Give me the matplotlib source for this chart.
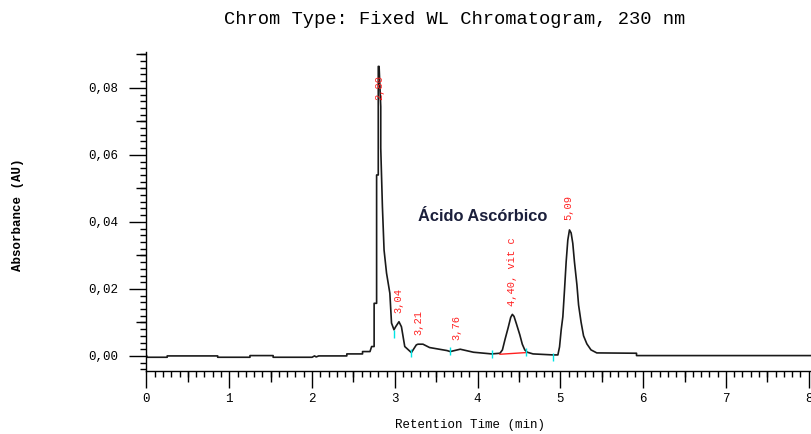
import matplotlib
matplotlib.use("Agg")
import matplotlib.pyplot as plt
from matplotlib.ticker import MultipleLocator, FuncFormatter

# traza del cromatograma (min, AU)
tiempo = [0.00, 0.01, 0.25, 0.25, 0.86, 0.86, 1.25, 1.25, 1.53, 1.53,
          2.00, 2.03, 2.05, 2.08, 2.42, 2.42, 2.61, 2.61, 2.70, 2.72,
          2.75, 2.75, 2.78, 2.78, 2.80, 2.80, 2.81, 2.83, 2.83, 2.85,
          2.87, 2.90, 2.94, 2.96, 2.99, 3.01, 3.05, 3.08, 3.12, 3.20,
          3.26, 3.28, 3.34, 3.42, 3.63, 3.67, 3.79, 3.95, 4.17, 4.27,
          4.30, 4.33, 4.37, 4.40, 4.42, 4.44, 4.47, 4.51, 4.54, 4.57,
          4.60, 4.67, 4.91, 4.97, 4.99, 5.01, 5.03, 5.05, 5.07, 5.09,
          5.11, 5.13, 5.15, 5.17, 5.20, 5.22, 5.25, 5.28, 5.32, 5.37,
          5.44, 5.92, 5.92, 8.04]
absorbancia = [0.0001, -0.0004, -0.0004, 0.0000, 0.0000, -0.0004, -0.0004, 0.0001, 0.0001, -0.0004,
               -0.0004, 0.0000, -0.0003, 0.0000, 0.0000, 0.0006, 0.0006, 0.0013, 0.0013, 0.0028,
               0.0028, 0.0157, 0.0157, 0.0540, 0.0540, 0.0864, 0.0864, 0.0744, 0.0620, 0.0446,
               0.0316, 0.0247, 0.0187, 0.0098, 0.0078, 0.0087, 0.0102, 0.0087, 0.0028, 0.0010,
               0.0033, 0.0035, 0.0035, 0.0025, 0.0016, 0.0013, 0.0020, 0.0011, 0.0006, 0.0008,
               0.0018, 0.0048, 0.0085, 0.0115, 0.0124, 0.0118, 0.0095, 0.0063, 0.0035, 0.0018,
               0.0011, 0.0006, 0.0003, 0.0003, 0.0027, 0.0078, 0.0117, 0.0197, 0.0281, 0.0346,
               0.0376, 0.0367, 0.0336, 0.0281, 0.0212, 0.0152, 0.0101, 0.0060, 0.0036, 0.0018,
               0.0009, 0.0008, 0.0001, 0.0001]

# etiquetas de picos (texto, tiempo, altura de la base del texto)
etiquetas = ["2,80", "3,04", "3,21", "3,76", "4,40, vit c", "5,09"]
etiq_t = [2.81, 3.04, 3.28, 3.75, 4.42, 5.10]
etiq_y = [0.0764, 0.0128, 0.0063, 0.0048, 0.0149, 0.0406]

# marcas de integracion (cian)
marcas_t = [2.99, 3.20, 3.67, 4.17, 4.59, 4.91]
marcas_y = [0.0066, 0.0009, 0.0015, 0.0007, 0.0013, -0.0004]

# linea base del pico de vitamina C
base_t = [4.27, 4.59]
base_y = [0.0005, 0.0010]

MONO = "Liberation Mono"

fig = plt.figure(figsize=(8.12, 4.34), dpi=100)
ax = fig.add_axes([146.5 / 812, 63 / 434, 665.5 / 812, 319 / 434])

ax.plot(tiempo, absorbancia, color="#1a1a1a", lw=1.2)
ax.plot(base_t, base_y, color="#ff2020", lw=1.0)
ax.vlines(marcas_t, [m - 0.0012 for m in marcas_y], [m + 0.0012 for m in marcas_y],
          color="#00e5e5", lw=1.0)

for txt, tx, ty in zip(etiquetas, etiq_t, etiq_y):
    ax.text(tx, ty, txt, rotation=90, ha="center", va="bottom",
            color="#ff2020", fontsize=7.5, family=MONO)

ax.text(4.06, 0.0415, "Ácido Ascórbico", ha="center", va="center",
        fontsize=11.8, fontweight="bold", family="Liberation Sans", color="#1b1f3b")

ax.set_xlim(0, 8.04)
ax.set_ylim(-0.0045, 0.0907)

for s in ["top", "right"]:
    ax.spines[s].set_visible(False)
for s in ["left", "bottom"]:
    ax.spines[s].set_linewidth(1.0)

ax.xaxis.set_major_locator(MultipleLocator(1))
ax.xaxis.set_minor_locator(MultipleLocator(0.1))
ax.yaxis.set_major_locator(MultipleLocator(0.02))
ax.yaxis.set_minor_locator(MultipleLocator(0.002))
ax.yaxis.set_major_formatter(FuncFormatter(lambda v, p: f"{v:.2f}".replace(".", ",")))
ax.tick_params(which="major", length=12, width=1, direction="out")
ax.tick_params(which="minor", length=4, width=1, direction="out")
ax.tick_params(axis="x", pad=4)
ax.tick_params(axis="y", pad=8)
for lab in ax.get_xticklabels() + ax.get_yticklabels():
    lab.set_family(MONO)
    lab.set_fontsize(9)

# marcas intermedias (0,5 min y 0,01 AU)
secx = ax.secondary_xaxis("bottom")
secx.set_xticks([0.5 + i for i in range(8)])
secx.tick_params(length=8, width=1, labelbottom=False)
secx.spines["bottom"].set_visible(False)
secy = ax.secondary_yaxis("left")
secy.set_yticks([0.01 + 0.02 * i for i in range(5)])
secy.tick_params(length=7, width=1, labelleft=False)
secy.spines["left"].set_visible(False)

fig.text(455 / 812, 0.954, "Chrom Type: Fixed WL Chromatogram, 230 nm",
         ha="center", va="center", fontsize=13.5, family=MONO)
fig.text(470 / 812, 1 - 425 / 434, "Retention Time (min)",
         ha="center", va="center", fontsize=9, family=MONO)
fig.text(18 / 812, 1 - 215 / 434, "Absorbance (AU)", rotation=90,
         ha="center", va="center", fontsize=9, fontweight="bold", family=MONO)

fig.savefig("out.png", dpi=100)
